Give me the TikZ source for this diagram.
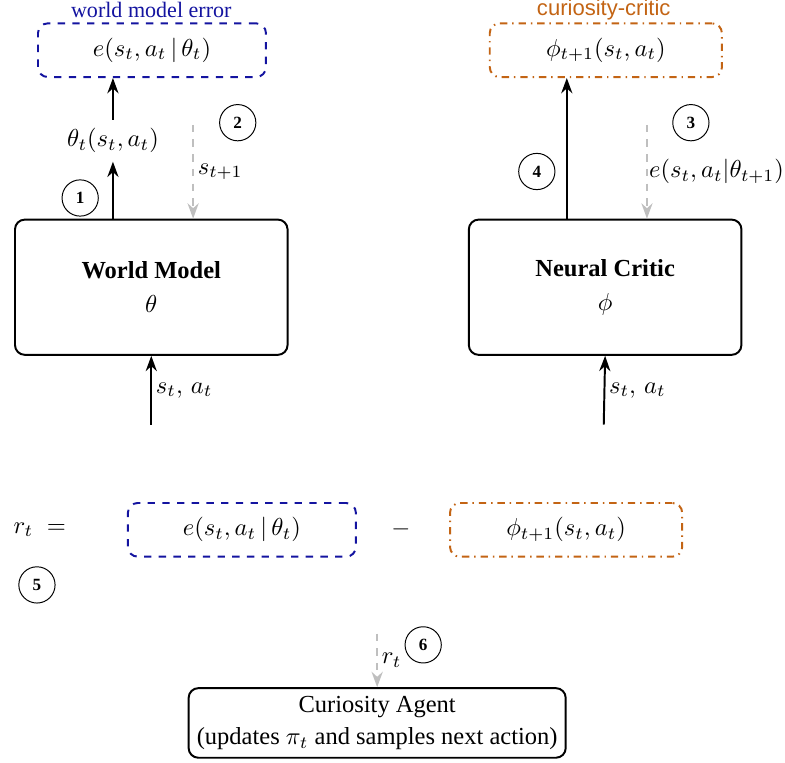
\documentclass[tikz,border=0pt]{standalone}
\usepackage{fontspec}
\setmainfont{Liberation Serif}
\newfontfamily\critfont{Liberation Sans}
\usetikzlibrary{arrows.meta}
\definecolor{wmblue}{RGB}{20,20,160}
\definecolor{crorange}{RGB}{195,100,20}
\tikzset{
  block/.style={draw,thick,rounded corners=4pt,minimum width=3.91cm,minimum height=1.94cm,align=center},
  errbox/.style={draw=wmblue,thick,dashed,rounded corners=4pt,minimum width=3.27cm,minimum height=0.77cm},
  critbox/.style={draw=crorange,thick,dash pattern=on 3pt off 2pt on 0.6pt off 2pt,rounded corners=4pt,minimum width=3.33cm,minimum height=0.77cm},
  stepnum/.style={draw,circle,thin,minimum size=0.52cm,inner sep=0pt,font=\scriptsize\bfseries},
  flow/.style={-{Stealth[length=2.2mm,width=1.6mm]},thick},
  signal/.style={-{Stealth[length=2.2mm,width=1.6mm]},dashed,gray!50,thick},
  sidelbl/.style={midway,right,inner sep=1.5pt,text=black}
}

\begin{document}
\begin{tikzpicture}
\useasboundingbox (0,0) rectangle (11.26,10.94);

% world model side
\node[block] (wm) at (2.17,6.82) {\textbf{World Model}\\[2pt] $\theta$};
\node[errbox] (wmerr) at (2.18,10.22) {$e(s_t,a_t\,|\,\theta_t)$};
\node[text=wmblue,font=\small] (wmerrlbl) at (2.17,10.80) {world model error};
\node (pred) at (1.62,8.92) {$\theta_t(s_t,a_t)$};
\coordinate (wmin) at (2.17,4.85);
\coordinate (wmobs) at (2.77,9.15);

\draw[flow] (wm.north -| pred) -- (pred.south);
\draw[flow] (pred.north) -- (pred.north |- wmerr.south);
\draw[signal] (wmobs) -- (wmobs |- wm.north) node[sidelbl]{$s_{t+1}$};
\draw[flow] (wmin) -- (wm.south) node[sidelbl]{$s_t,\,a_t$};

\node[stepnum] (n1) at (1.15,8.10) {1};
\node[stepnum] (n2) at (3.41,9.18) {2};

% critic side
\node[block] (nc) at (8.68,6.82) {\textbf{Neural Critic}\\[2pt] $\phi$};
\node[critbox] (crit) at (8.69,10.22) {$\phi_{t+1}(s_t,a_t)$};
\node[text=crorange,font=\critfont\small] (critlbl) at (8.66,10.80) {curiosity-critic};
\coordinate (ncout) at (8.13,7);
\coordinate (ncin) at (8.66,4.85);
\coordinate (ncerr) at (9.28,9.15);

\draw[flow] (ncout |- nc.north) -- (ncout |- crit.south);
\draw[signal] (ncerr) -- (ncerr |- nc.north) node[sidelbl,inner sep=0.5pt]{$e(s_t,a_t|\theta_{t+1})$};
\draw[flow] (ncin) -- (nc.south) node[sidelbl]{$s_t,\,a_t$};

\node[stepnum] (n3) at (9.91,9.18) {3};
\node[stepnum] (n4) at (7.70,8.48) {4};

% reward
\node (rew) at (0.57,3.34) {$r_t\;=$};
\node[errbox] (rwerr) at (3.47,3.34) {$e(s_t,a_t\,|\,\theta_t)$};
\node (minus) at (5.75,3.34) {$-$};
\node[critbox] (rwcrit) at (8.12,3.34) {$\phi_{t+1}(s_t,a_t)$};
\node[stepnum] (n5) at (0.53,2.55) {5};

% agent
\node[draw,thick,rounded corners=4pt,align=center,minimum width=5.29cm,minimum height=0.96cm] (agent) at (5.41,0.57) {Curiosity Agent\\[1pt](updates $\pi_t$ and samples next action)};
\coordinate (rwout) at (5.41,1.85);
\draw[signal] (rwout) -- (agent.north) node[sidelbl]{$r_t$};
\node[stepnum] (n6) at (6.07,1.69) {6};
\end{tikzpicture}
\end{document}
